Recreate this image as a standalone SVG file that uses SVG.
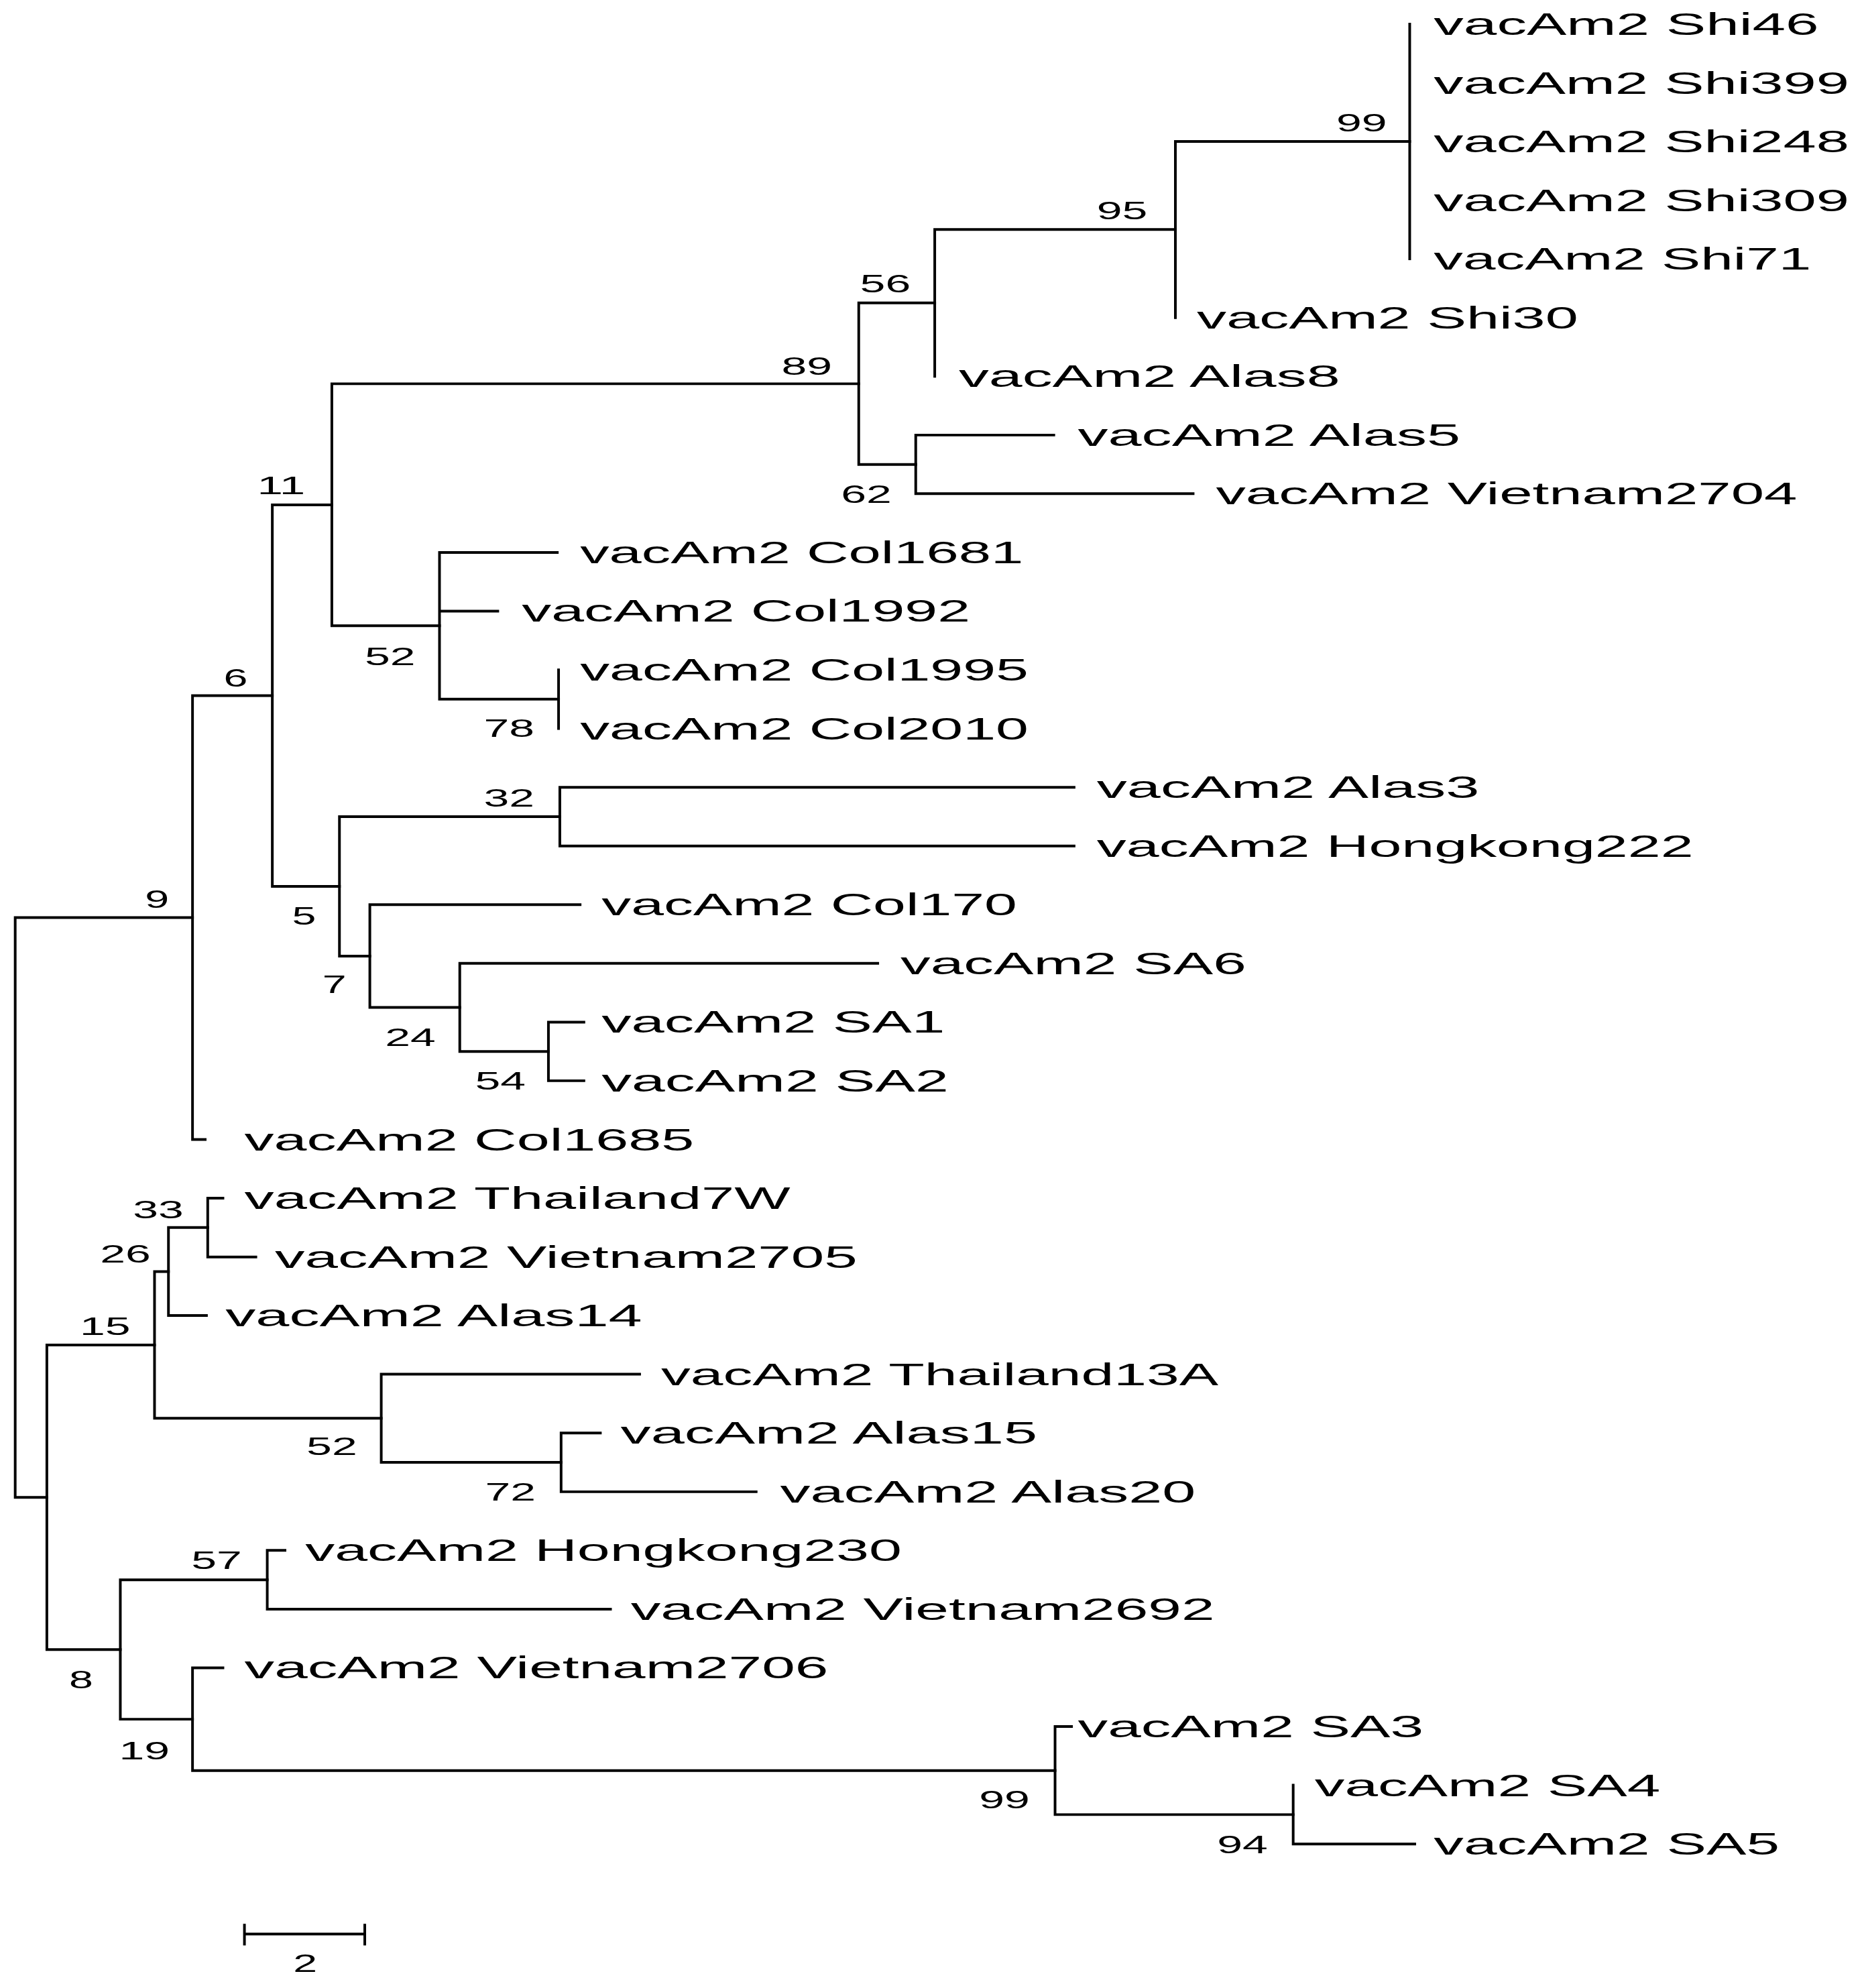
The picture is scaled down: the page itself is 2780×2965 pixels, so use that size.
<svg xmlns="http://www.w3.org/2000/svg" width="2780" height="2965" viewBox="0 0 2780 2965">
<style>
.e{fill:none;stroke:#000;stroke-width:2.1;stroke-linecap:square}
.l{font-family:"Liberation Sans",Arial,sans-serif;font-size:24px;fill:#000}
.b{font-family:"Liberation Sans",Arial,sans-serif;font-size:20px;fill:#000;text-anchor:middle}
</style>
<rect width="2780" height="2965" fill="#fff"/>
<g transform="scale(1.889)">
<g id="connectors">
<path class="e" d="M12 724.5V1182.2M12 724.5H152M12 1182.2H37"/>
<path class="e" d="M152 549.2V899.7M152 549.2H215M152 899.7H162"/>
<path class="e" d="M215 398.6V699.8M215 398.6H262M215 699.8H268"/>
<path class="e" d="M262 303V494.1M262 303H678M262 494.1H347"/>
<path class="e" d="M678 239.2V366.7M678 239.2H738M678 366.7H723"/>
<path class="e" d="M738 181.2V297.1M738 181.2H928"/>
<path class="e" d="M928 111.7V250.8M928 111.7H1113"/>
<path class="e" d="M1113 19V204.4"/>
<path class="e" d="M723 343.5V389.8M723 343.5H832M723 389.8H942"/>
<path class="e" d="M347 436.2V552M347 436.2H440M347 482.5H393M347 552H441"/>
<path class="e" d="M441 528.9V575.2"/>
<path class="e" d="M268 644.8V754.9M268 644.8H442M268 754.9H292"/>
<path class="e" d="M442 621.6V667.9M442 621.6H848M442 667.9H848"/>
<path class="e" d="M292 714.3V795.4M292 714.3H458M292 795.4H363"/>
<path class="e" d="M363 760.6V830.2M363 760.6H693M363 830.2H433"/>
<path class="e" d="M433 807V853.3M433 807H461M433 853.3H461"/>
<path class="e" d="M37 1061.9V1302.4M37 1061.9H122M37 1302.4H95"/>
<path class="e" d="M122 1004V1119.8M122 1004H133M122 1119.8H301"/>
<path class="e" d="M133 969.2V1038.7M133 969.2H164M133 1038.7H163"/>
<path class="e" d="M164 946V992.4M164 946H176M164 992.4H202"/>
<path class="e" d="M301 1085V1154.6M301 1085H505M301 1154.6H443"/>
<path class="e" d="M443 1131.4V1177.8M443 1131.4H474M443 1177.8H597"/>
<path class="e" d="M95 1247.3V1357.4M95 1247.3H211M95 1357.4H152"/>
<path class="e" d="M211 1224.1V1270.5M211 1224.1H225M211 1270.5H482"/>
<path class="e" d="M152 1316.8V1398M152 1316.8H176M152 1398H833"/>
<path class="e" d="M833 1363.2V1432.7M833 1363.2H846M833 1432.7H1021"/>
<path class="e" d="M1021 1409.5V1455.9M1021 1455.9H1117"/>
<path class="e" d="M193 1527H288M193 1520V1535M288 1520V1535"/>
</g>
<g id="leaves">
<text class="l" x="1132" y="27.5" textLength="304" lengthAdjust="spacingAndGlyphs">vacAm2 Shi46</text>
<text class="l" x="1132" y="73.9" textLength="328" lengthAdjust="spacingAndGlyphs">vacAm2 Shi399</text>
<text class="l" x="1132" y="120.2" textLength="328" lengthAdjust="spacingAndGlyphs">vacAm2 Shi248</text>
<text class="l" x="1132" y="166.5" textLength="328" lengthAdjust="spacingAndGlyphs">vacAm2 Shi309</text>
<text class="l" x="1132" y="212.9" textLength="298" lengthAdjust="spacingAndGlyphs">vacAm2 Shi71</text>
<text class="l" x="945" y="259.3" textLength="301" lengthAdjust="spacingAndGlyphs">vacAm2 Shi30</text>
<text class="l" x="757" y="305.6" textLength="301" lengthAdjust="spacingAndGlyphs">vacAm2 Alas8</text>
<text class="l" x="851" y="352" textLength="302" lengthAdjust="spacingAndGlyphs">vacAm2 Alas5</text>
<text class="l" x="960" y="398.3" textLength="459" lengthAdjust="spacingAndGlyphs">vacAm2 Vietnam2704</text>
<text class="l" x="458" y="444.7" textLength="350" lengthAdjust="spacingAndGlyphs">vacAm2 Col1681</text>
<text class="l" x="412" y="491" textLength="354" lengthAdjust="spacingAndGlyphs">vacAm2 Col1992</text>
<text class="l" x="458" y="537.4" textLength="354" lengthAdjust="spacingAndGlyphs">vacAm2 Col1995</text>
<text class="l" x="458" y="583.7" textLength="354" lengthAdjust="spacingAndGlyphs">vacAm2 Col2010</text>
<text class="l" x="866" y="630.1" textLength="302" lengthAdjust="spacingAndGlyphs">vacAm2 Alas3</text>
<text class="l" x="866" y="676.4" textLength="471" lengthAdjust="spacingAndGlyphs">vacAm2 Hongkong222</text>
<text class="l" x="475" y="722.8" textLength="328" lengthAdjust="spacingAndGlyphs">vacAm2 Col170</text>
<text class="l" x="711" y="769.1" textLength="273" lengthAdjust="spacingAndGlyphs">vacAm2 SA6</text>
<text class="l" x="475" y="815.5" textLength="271" lengthAdjust="spacingAndGlyphs">vacAm2 SA1</text>
<text class="l" x="475" y="861.8" textLength="274" lengthAdjust="spacingAndGlyphs">vacAm2 SA2</text>
<text class="l" x="193" y="908.2" textLength="355" lengthAdjust="spacingAndGlyphs">vacAm2 Col1685</text>
<text class="l" x="193" y="954.5" textLength="431" lengthAdjust="spacingAndGlyphs">vacAm2 Thailand7W</text>
<text class="l" x="217" y="1000.9" textLength="460" lengthAdjust="spacingAndGlyphs">vacAm2 Vietnam2705</text>
<text class="l" x="178" y="1047.2" textLength="329" lengthAdjust="spacingAndGlyphs">vacAm2 Alas14</text>
<text class="l" x="522" y="1093.5" textLength="440" lengthAdjust="spacingAndGlyphs">vacAm2 Thailand13A</text>
<text class="l" x="490" y="1139.9" textLength="329" lengthAdjust="spacingAndGlyphs">vacAm2 Alas15</text>
<text class="l" x="616" y="1186.3" textLength="328" lengthAdjust="spacingAndGlyphs">vacAm2 Alas20</text>
<text class="l" x="241" y="1232.6" textLength="471" lengthAdjust="spacingAndGlyphs">vacAm2 Hongkong230</text>
<text class="l" x="498" y="1279" textLength="461" lengthAdjust="spacingAndGlyphs">vacAm2 Vietnam2692</text>
<text class="l" x="193" y="1325.3" textLength="461" lengthAdjust="spacingAndGlyphs">vacAm2 Vietnam2706</text>
<text class="l" x="851" y="1371.7" textLength="273" lengthAdjust="spacingAndGlyphs">vacAm2 SA3</text>
<text class="l" x="1038" y="1418" textLength="273" lengthAdjust="spacingAndGlyphs">vacAm2 SA4</text>
<text class="l" x="1132" y="1464.4" textLength="273" lengthAdjust="spacingAndGlyphs">vacAm2 SA5</text>
</g>
<g id="support">
<text class="b" x="1075" y="104" textLength="40" lengthAdjust="spacingAndGlyphs">99</text>
<text class="b" x="886" y="173" textLength="40" lengthAdjust="spacingAndGlyphs">95</text>
<text class="b" x="699" y="231" textLength="40" lengthAdjust="spacingAndGlyphs">56</text>
<text class="b" x="637" y="296" textLength="40" lengthAdjust="spacingAndGlyphs">89</text>
<text class="b" x="684" y="397" textLength="40" lengthAdjust="spacingAndGlyphs">62</text>
<text class="b" x="222" y="390" textLength="38" lengthAdjust="spacingAndGlyphs">11</text>
<text class="b" x="308" y="525" textLength="40" lengthAdjust="spacingAndGlyphs">52</text>
<text class="b" x="402" y="582" textLength="40" lengthAdjust="spacingAndGlyphs">78</text>
<text class="b" x="186" y="542" textLength="19" lengthAdjust="spacingAndGlyphs">6</text>
<text class="b" x="402" y="637" textLength="40" lengthAdjust="spacingAndGlyphs">32</text>
<text class="b" x="240" y="730" textLength="19" lengthAdjust="spacingAndGlyphs">5</text>
<text class="b" x="124" y="717" textLength="19" lengthAdjust="spacingAndGlyphs">9</text>
<text class="b" x="264" y="784" textLength="19" lengthAdjust="spacingAndGlyphs">7</text>
<text class="b" x="324" y="826" textLength="40" lengthAdjust="spacingAndGlyphs">24</text>
<text class="b" x="395" y="860" textLength="40" lengthAdjust="spacingAndGlyphs">54</text>
<text class="b" x="125" y="962" textLength="40" lengthAdjust="spacingAndGlyphs">33</text>
<text class="b" x="99" y="997" textLength="40" lengthAdjust="spacingAndGlyphs">26</text>
<text class="b" x="83" y="1054" textLength="40" lengthAdjust="spacingAndGlyphs">15</text>
<text class="b" x="262" y="1149" textLength="40" lengthAdjust="spacingAndGlyphs">52</text>
<text class="b" x="403" y="1185" textLength="40" lengthAdjust="spacingAndGlyphs">72</text>
<text class="b" x="171" y="1239" textLength="40" lengthAdjust="spacingAndGlyphs">57</text>
<text class="b" x="64" y="1333" textLength="19" lengthAdjust="spacingAndGlyphs">8</text>
<text class="b" x="114" y="1389" textLength="40" lengthAdjust="spacingAndGlyphs">19</text>
<text class="b" x="793" y="1428" textLength="40" lengthAdjust="spacingAndGlyphs">99</text>
<text class="b" x="981" y="1463" textLength="40" lengthAdjust="spacingAndGlyphs">94</text>
<text class="b" x="241" y="1557" textLength="19" lengthAdjust="spacingAndGlyphs">2</text>
</g>
</g>
</svg>
